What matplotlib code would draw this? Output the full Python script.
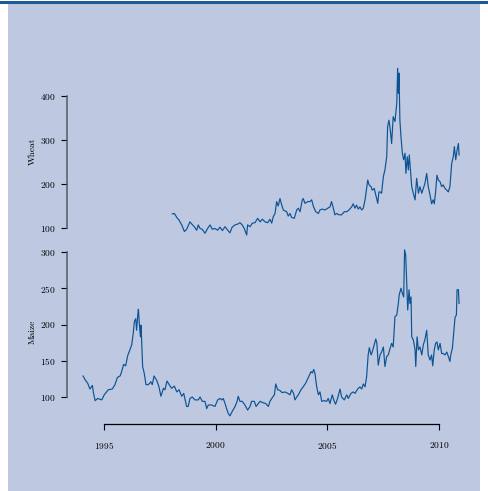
import matplotlib
matplotlib.use("Agg")
from matplotlib import pyplot as plt
from matplotlib.patches import Rectangle
from matplotlib.lines import Line2D

# values (decimal year, price)
maize_year = [1994.06, 1994.15, 1994.27, 1994.37, 1994.48, 1994.52, 1994.60, 1994.72, 1994.90, 1995.01,
              1995.19, 1995.37, 1995.49, 1995.60, 1995.72, 1995.79, 1995.88, 1995.97, 1996.06, 1996.16,
              1996.24, 1996.31, 1996.36, 1996.42, 1996.46, 1996.51, 1996.54, 1996.58, 1996.63, 1996.66,
              1996.73, 1996.80, 1996.88, 1996.98, 1997.10, 1997.16, 1997.24, 1997.36, 1997.46, 1997.55,
              1997.66, 1997.73, 1997.82, 1997.92, 1998.03, 1998.15, 1998.26, 1998.36, 1998.48, 1998.57,
              1998.70, 1998.77, 1998.85, 1998.95, 1999.07, 1999.22, 1999.30, 1999.40, 1999.52, 1999.60,
              1999.67, 1999.82, 1999.97, 2000.09, 2000.19, 2000.27, 2000.34, 2000.42, 2000.49, 2000.57,
              2000.64, 2000.74, 2000.87, 2000.96, 2001.01, 2001.09, 2001.19, 2001.31, 2001.43, 2001.54,
              2001.61, 2001.73, 2001.81, 2001.91, 2001.99, 2002.13, 2002.24, 2002.36, 2002.43, 2002.51,
              2002.63, 2002.69, 2002.78, 2002.88, 2002.98, 2003.10, 2003.23, 2003.33, 2003.40, 2003.49,
              2003.55, 2003.63, 2003.70, 2003.82, 2003.92, 2004.03, 2004.15, 2004.27, 2004.33, 2004.39,
              2004.45, 2004.52, 2004.60, 2004.67, 2004.75, 2004.86, 2004.97, 2005.04, 2005.12, 2005.22,
              2005.31, 2005.37, 2005.46, 2005.57, 2005.64, 2005.76, 2005.87, 2005.94, 2006.06, 2006.16,
              2006.24, 2006.36, 2006.46, 2006.54, 2006.61, 2006.69, 2006.76, 2006.83, 2006.88, 2006.96,
              2007.01, 2007.08, 2007.17, 2007.22, 2007.28, 2007.36, 2007.43, 2007.51, 2007.58, 2007.66,
              2007.73, 2007.81, 2007.88, 2007.95, 2008.03, 2008.11, 2008.18, 2008.22, 2008.30, 2008.36,
              2008.42, 2008.46, 2008.51, 2008.55, 2008.60, 2008.66, 2008.70, 2008.75, 2008.78, 2008.85,
              2008.93, 2008.96, 2009.02, 2009.08, 2009.15, 2009.23, 2009.30, 2009.37, 2009.45, 2009.52,
              2009.60, 2009.67, 2009.72, 2009.79, 2009.85, 2009.91, 2009.97, 2010.05, 2010.12, 2010.19,
              2010.27, 2010.35, 2010.42, 2010.49, 2010.54, 2010.60, 2010.64, 2010.72, 2010.78, 2010.81,
              2010.87, 2010.90]
maize_price = [129, 124, 119, 111, 116, 107, 95, 98, 96, 103,
               110, 111, 117, 127, 129, 135, 145, 143, 157, 165,
               172, 188, 204, 208, 192, 213, 221, 202, 183, 199,
               142, 133, 117, 117, 121, 117, 129, 123, 114, 101,
               112, 110, 122, 117, 112, 115, 107, 110, 101, 105,
               87, 87, 98, 100, 96, 96, 100, 94, 94, 84,
               89, 89, 87, 96, 98, 96, 98, 91, 84, 77,
               74, 80, 87, 94, 101, 94, 94, 89, 82, 87,
               94, 94, 87, 91, 94, 92, 91, 87, 94, 98,
               103, 118, 110, 109, 106, 107, 105, 103, 110, 105,
               96, 100, 103, 110, 114, 119, 127, 135, 133, 138,
               132, 115, 103, 107, 94, 95, 94, 98, 91, 103,
               94, 90, 98, 111, 100, 96, 103, 98, 105, 107,
               105, 111, 114, 111, 118, 114, 128, 158, 168, 158,
               162, 170, 180, 174, 144, 158, 162, 169, 142, 156,
               158, 167, 174, 169, 211, 213, 229, 241, 250, 243,
               238, 303, 296, 261, 220, 248, 229, 238, 183, 179,
               165, 142, 183, 165, 169, 158, 172, 179, 192, 158,
               151, 158, 143, 165, 174, 176, 165, 174, 160, 160,
               158, 162, 156, 149, 160, 167, 181, 210, 213, 248,
               248, 229]

wheat_year = [1998.06, 1998.15, 1998.26, 1998.36, 1998.48, 1998.60, 1998.70, 1998.85, 1998.93, 1999.04,
              1999.15, 1999.22, 1999.30, 1999.40, 1999.52, 1999.64, 1999.75, 1999.85, 1999.97, 2000.09,
              2000.19, 2000.30, 2000.42, 2000.54, 2000.64, 2000.74, 2000.87, 2000.99, 2001.09, 2001.19,
              2001.28, 2001.39, 2001.43, 2001.54, 2001.64, 2001.76, 2001.88, 2001.99, 2002.09, 2002.21,
              2002.33, 2002.43, 2002.51, 2002.58, 2002.66, 2002.73, 2002.80, 2002.88, 2002.96, 2003.03,
              2003.10, 2003.18, 2003.25, 2003.33, 2003.40, 2003.52, 2003.63, 2003.70, 2003.78, 2003.88,
              2003.92, 2004.00, 2004.12, 2004.22, 2004.30, 2004.37, 2004.48, 2004.60, 2004.67, 2004.77,
              2004.90, 2005.02, 2005.12, 2005.19, 2005.27, 2005.34, 2005.42, 2005.52, 2005.64, 2005.76,
              2005.87, 2005.97, 2006.09, 2006.16, 2006.24, 2006.31, 2006.39, 2006.46, 2006.54, 2006.61,
              2006.69, 2006.76, 2006.81, 2006.87, 2006.96, 2007.01, 2007.10, 2007.17, 2007.26, 2007.31,
              2007.36, 2007.43, 2007.51, 2007.58, 2007.66, 2007.70, 2007.76, 2007.81, 2007.88, 2007.95,
              2008.03, 2008.11, 2008.15, 2008.18, 2008.21, 2008.25, 2008.30, 2008.36, 2008.42, 2008.48,
              2008.52, 2008.58, 2008.63, 2008.67, 2008.72, 2008.78, 2008.85, 2008.93, 2009.00, 2009.08,
              2009.15, 2009.23, 2009.30, 2009.37, 2009.45, 2009.52, 2009.60, 2009.67, 2009.74, 2009.79,
              2009.85, 2009.91, 2009.97, 2010.05, 2010.12, 2010.19, 2010.27, 2010.35, 2010.42, 2010.49,
              2010.57, 2010.64, 2010.69, 2010.75, 2010.81, 2010.87, 2010.90]
wheat_price = [132, 133, 124, 118, 107, 92, 97, 114, 109, 103,
               95, 107, 99, 97, 88, 99, 107, 97, 99, 95,
               102, 94, 103, 95, 89, 102, 107, 109, 112, 107,
               99, 84, 107, 103, 111, 112, 122, 114, 120, 114,
               112, 120, 111, 126, 133, 160, 150, 167, 152, 141,
               139, 137, 127, 133, 124, 122, 141, 145, 137, 164,
               167, 156, 160, 160, 164, 150, 137, 133, 141, 143,
               141, 145, 148, 160, 145, 130, 133, 130, 130, 137,
               137, 141, 148, 155, 145, 152, 143, 148, 141, 145,
               164, 190, 209, 198, 194, 186, 190, 175, 156, 182,
               182, 179, 217, 232, 262, 330, 345, 327, 292, 353,
               342, 383, 463, 406, 452, 345, 307, 270, 255, 270,
               224, 262, 232, 266, 232, 194, 179, 164, 213, 179,
               194, 179, 190, 201, 224, 194, 175, 155, 164, 155,
               182, 220, 209, 205, 194, 198, 190, 186, 182, 194,
               247, 262, 285, 255, 277, 292, 266]

year_ticks = [1995, 2000, 2005, 2010]
wheat_ticks = [100, 200, 300, 400]
maize_ticks = [100, 150, 200, 250, 300]

bg = "#bec8e0"
line_col = "#0b5394"

plt.rcParams["font.family"] = ["cmr10", "DejaVu Serif"]
plt.rcParams["axes.formatter.use_mathtext"] = True

fig = plt.figure(figsize=(4.88, 4.91), dpi=100)
fig.patch.set_facecolor("white")
fig.patches.append(Rectangle((8 / 488, 0), 472 / 488, 488 / 491, transform=fig.transFigure,
                             facecolor=bg, edgecolor="none", zorder=-10))
fig.lines.append(Line2D([0, 1], [1 - 1.5 / 491, 1 - 1.5 / 491], transform=fig.transFigure,
                        color="#1d5a99", linewidth=2.2))

xlim = (1993.343, 2011.3)
left = 67 / 488
width = (468 - 67) / 488


def style(ax, ticks, bound):
    ax.set_facecolor("none")
    for s in ["top", "right"]:
        ax.spines[s].set_visible(False)
    ax.spines["left"].set_bounds(*bound)
    ax.spines["left"].set_color("#555a66")
    ax.spines["left"].set_linewidth(1.1)
    ax.set_yticks(ticks)
    ax.tick_params(axis="y", length=4.3, width=0.8, labelsize=6.8, pad=4, colors="black")
    ax.set_xlim(*xlim)


# wheat panel
ax1 = fig.add_axes([left, (491 - 236.8) / 491, width, 171.6 / 491])
ax1.plot(wheat_year, wheat_price, color=line_col, linewidth=0.85)
ax1.set_ylim(80, 470)
style(ax1, wheat_ticks, (100, 400))
ax1.spines["bottom"].set_visible(False)
ax1.set_xticks([])
ax1.set_ylabel("Wheat", fontsize=6.8)
ax1.yaxis.set_label_coords(-0.076, 0.5)

# maize panel
ax2 = fig.add_axes([left, (491 - 418.75) / 491, width, 174 / 491])
ax2.plot(maize_year, maize_price, color=line_col, linewidth=0.85)
ax2.set_ylim(70, 310)
style(ax2, maize_ticks, (100, 300))
ax2.spines["bottom"].set_position(("outward", 3.8))
ax2.spines["bottom"].set_bounds(1995, 2010)
ax2.spines["bottom"].set_linewidth(0.9)
ax2.set_xticks(year_ticks)
ax2.tick_params(axis="x", length=4.3, width=0.8, labelsize=6.8, pad=7)
ax2.set_ylabel("Maize", fontsize=6.8)
ax2.yaxis.set_label_coords(-0.076, 0.5)

fig.savefig("out.png", dpi=100, facecolor=fig.get_facecolor())
